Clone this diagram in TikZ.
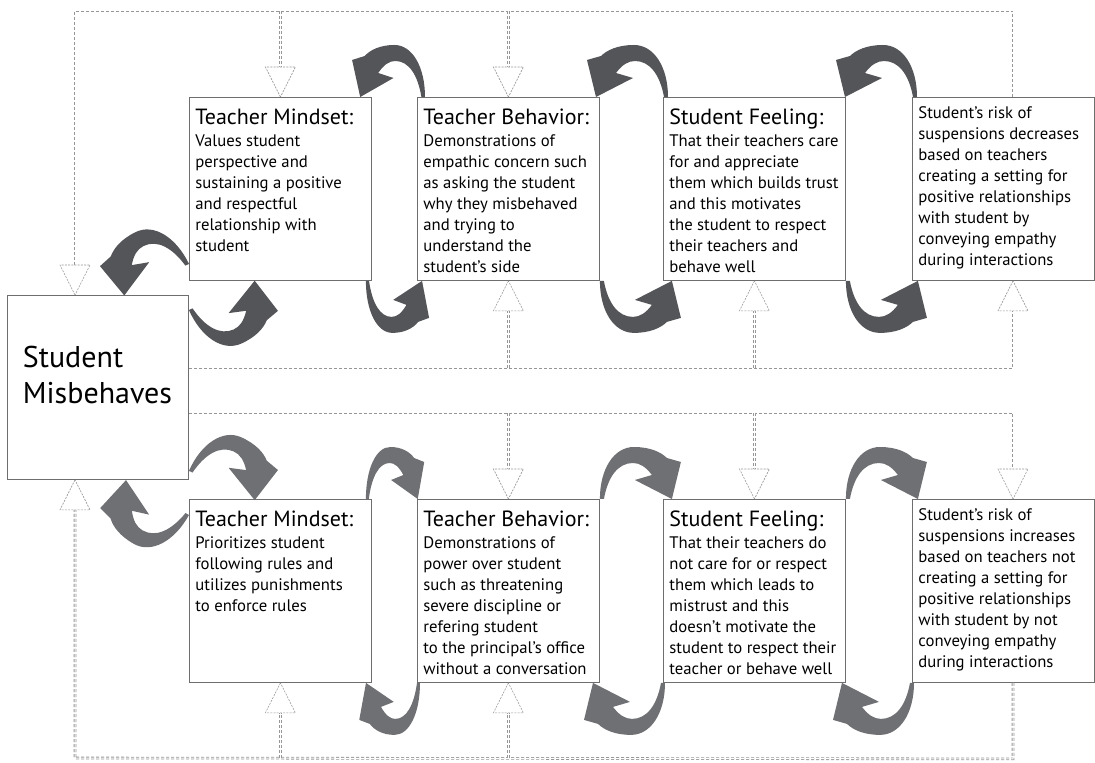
\documentclass[tikz,border=0pt]{standalone}
\usepackage{fontspec}
\setmainfont{PT Sans}
\usetikzlibrary{arrows.meta}
\definecolor{swooshdark}{RGB}{84,85,88}
\definecolor{swooshlite}{RGB}{111,112,115}
\definecolor{boxline}{RGB}{110,110,110}
\definecolor{fbgray}{RGB}{150,150,150}
\newcommand{\stagetext}[2]{\parbox[t][175pt][t]{170pt}{\raggedright{\fontsize{22}{26}\selectfont\rule{0pt}{23pt}\mbox{#1}\par}\vspace{1pt}{\fontsize{16.7}{21}\selectfont #2\par}}}
\newcommand{\risktext}[1]{\parbox[t][175pt][t]{170pt}{\raggedright\fontsize{16.7}{21}\selectfont\rule{0pt}{17pt}#1\par}}
\newcommand{\headdown}[1]{\draw[fbhead] (#1) -- ++(-15pt,30pt) -- ++(30pt,0) -- cycle;}
\newcommand{\headup}[1]{\draw[fbhead] (#1) -- ++(-15pt,-30pt) -- ++(30pt,0) -- cycle;}
\tikzset{swoosh/.pic={
  \path[pic actions] (0,0) .. controls (0,30) and (14,52) .. (34,52) .. controls (50,52) and (61,47) .. (67,41)
    -- (81,37) -- (72,0) -- (35,19) -- (52,24) .. controls (46,32) and (40,36) .. (33,36)
    .. controls (18,36) and (8,22) .. (4,0) -- cycle;}}
\begin{document}
\begin{tikzpicture}[x=1pt,y=1pt,
  box/.style={draw=boxline,line width=0.9pt,fill=white,anchor=north west,inner xsep=6pt,inner ysep=4pt},
  fb/.style={draw=fbgray,line width=0.8pt,double=white,double distance=1pt,densely dashed},
  fbhead/.style={draw=fbgray,line width=0.6pt,dash pattern=on 2pt off 1.2pt,fill=white},
  darkswoosh/.style={fill=swooshdark},
  liteswoosh/.style={fill=swooshlite}]
\useasboundingbox (0,0) rectangle (1095,763);
\node[box,inner xsep=15.5pt] (misbehave) at (7,468) {\parbox[t][176pt][t]{150pt}{\fontsize{30}{36}\selectfont\rule{0pt}{68pt}Student\\Misbehaves}};
% empathic path
\node[box] (mindsetpos) at (189,666) {\stagetext{Teacher Mindset:}{Values student\\perspective and\\sustaining a positive\\and respectful\\relationship with\\student}};
\node[box] (behaviorpos) at (417,666) {\stagetext{Teacher Behavior:}{Demonstrations of\\empathic concern such\\as asking the student\\why they misbehaved\\and trying to\\understand the\\student’s side}};
\node[box] (feelingpos) at (663,666) {\stagetext{Student Feeling:}{That their teachers care\\for and appreciate\\them which builds trust\\and this motivates\\the student to respect\\their teachers and\\behave well}};
\node[box] (riskpos) at (912,666) {\risktext{Student’s risk of\\suspensions decreases\\based on teachers\\creating a setting for\\positive relationships\\with student by\\conveying empathy\\during interactions}};
% punitive path
\node[box] (mindsetneg) at (189,264) {\stagetext{Teacher Mindset:}{Prioritizes student\\following rules and\\utilizes punishments\\to enforce rules}};
\node[box] (behaviorneg) at (417,264) {\stagetext{Teacher Behavior:}{Demonstrations of\\power over student\\such as threatening\\severe discipline or\\refering student\\to the principal’s office\\without a conversation}};
\node[box] (feelingneg) at (663,264) {\stagetext{Student Feeling:}{That their teachers do\\not care for or respect\\them which leads to\\mistrust and this\\doesn’t motivate the\\student to respect their\\teacher or behave well}};
\node[box] (riskneg) at (912,264) {\risktext{Student’s risk of\\suspensions increases\\based on teachers not\\creating a setting for\\positive relationships\\with student by not\\conveying empathy\\during interactions}};

% dashed feedback lines
\coordinate (topL) at (75,752);
\coordinate (topR) at ([xshift=101pt,yshift=86pt]riskpos.north west);
\draw[fb] ([xshift=101pt]riskpos.north west) -- (topR) -- (topL) -- ([xshift=68pt,yshift=30pt]misbehave.north west);
\foreach \n in {mindsetpos,behaviorpos}{
  \draw[fb] (topL -| \n.north) -- ([yshift=30pt]\n.north);
  \headdown{\n.north}}
\headdown{[xshift=68pt]misbehave.north west}
\coordinate (retR) at ([xshift=101pt,yshift=-87pt]riskpos.south west);
\draw[fb] (misbehave.east |- retR) -- (retR) -- ([xshift=101pt,yshift=-30pt]riskpos.south west);
\foreach \n in {behaviorpos,feelingpos}{
  \draw[fb] (retR -| \n.south) -- ([yshift=-30pt]\n.south);
  \headup{\n.south}}
\headup{[xshift=101pt]riskpos.south west}
\coordinate (feedR) at ([xshift=101pt,yshift=86pt]riskneg.north west);
\draw[fb] (misbehave.east |- feedR) -- (feedR) -- ([xshift=101pt,yshift=30pt]riskneg.north west);
\foreach \n in {behaviorneg,feelingneg}{
  \draw[fb] (feedR -| \n.north) -- ([yshift=30pt]\n.north);
  \headdown{\n.north}}
\headdown{[xshift=101pt]riskneg.north west}
\coordinate (botL) at (75,5);
\coordinate (botR) at ([xshift=101pt,yshift=-76pt]riskneg.south west);
\draw[fb] ([xshift=101pt]riskneg.south west) -- (botR) -- (botL) -- ([xshift=68pt,yshift=-30pt]misbehave.south west);
\foreach \n in {mindsetneg,behaviorneg}{
  \draw[fb] (botL -| \n.south) -- ([yshift=-30pt]\n.south);
  \headup{\n.south}}
\headup{[xshift=68pt]misbehave.south west}

% curved arrows, top row
\pic[darkswoosh,xscale=-0.9] at ([xshift=8pt]behaviorpos.north west) {swoosh};
\pic[darkswoosh,xscale=-1] at ([xshift=5pt]feelingpos.north west) {swoosh};
\pic[darkswoosh,xscale=-1] at ([xshift=5pt]riskpos.north west) {swoosh};
\pic[darkswoosh,rotate=24,yscale=-1] at ([yshift=-15pt]misbehave.north east) {swoosh};
\pic[darkswoosh,yscale=-1,xscale=0.78] at ([xshift=-6pt]mindsetpos.south east) {swoosh};
\pic[darkswoosh,yscale=-1] at (behaviorpos.south east) {swoosh};
\pic[darkswoosh,yscale=-1] at (feelingpos.south east) {swoosh};
\pic[darkswoosh,rotate=26,xscale=-1] at ([yshift=17pt]mindsetpos.south west) {swoosh};

% curved arrows, bottom row
\pic[liteswoosh,rotate=-24] at ([yshift=9pt]misbehave.south east) {swoosh};
\pic[liteswoosh,xscale=0.72] at ([xshift=-6pt]mindsetneg.north east) {swoosh};
\pic[liteswoosh] at (behaviorneg.north east) {swoosh};
\pic[liteswoosh] at (feelingneg.north east) {swoosh};
\pic[liteswoosh,rotate=-29,xscale=-1,yscale=-1] at ([yshift=-16pt]mindsetneg.north west) {swoosh};
\pic[liteswoosh,xscale=-0.75,yscale=-1] at ([xshift=3pt]behaviorneg.south west) {swoosh};
\pic[liteswoosh,xscale=-1,yscale=-1] at ([xshift=2pt]feelingneg.south west) {swoosh};
\pic[liteswoosh,xscale=-1,yscale=-1] at ([xshift=2pt]riskneg.south west) {swoosh};
\end{tikzpicture}
\end{document}
